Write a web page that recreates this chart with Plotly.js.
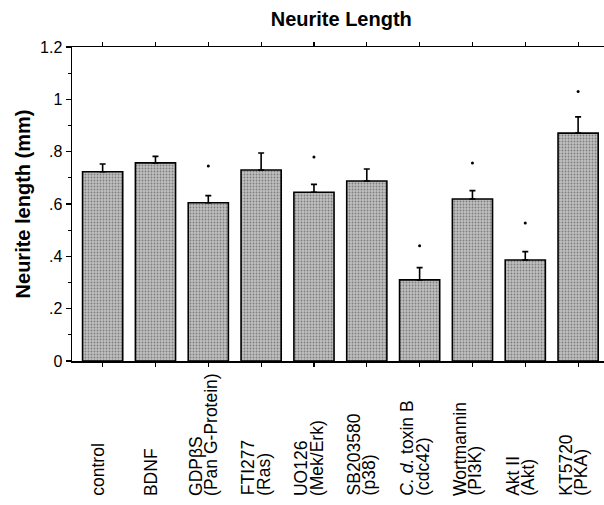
<!DOCTYPE html>
<html>
<head>
<meta charset="utf-8">
<script src="https://cdn.plot.ly/plotly-3.0.1.min.js"></script>
<style>html,body{margin:0;padding:0;background:#fff;}#chart{width:604px;height:505px;}</style>
</head>
<body>
<div id="chart"></div>
<script>
const categories = ["control","BDNF","GDPβS","FTI277","UO126","SB203580","C. d. toxin B","Wortmannin","Akt II","KT5720"];
const labelLine1 = ["control","BDNF","GDPβS","FTI277","UO126","SB203580","<i>C. d.</i> toxin B","Wortmannin","Akt II","KT5720"];
const labelLine2 = ["","","(Pan G-Protein)","(Ras)","(Mek/Erk)","(p38)","(cdc42)","(PI3K)","(Akt)","(PKA)"];
const meanLength = [0.723, 0.757, 0.605, 0.730, 0.645, 0.688, 0.310, 0.619, 0.386, 0.871];
const errUpper  = [0.030, 0.025, 0.027, 0.065, 0.030, 0.046, 0.047, 0.032, 0.032, 0.062];
const errLower  = [0, 0, 0, 0, 0, 0, 0, 0, 0, 0];
const sigCategories = ["GDPβS","UO126","C. d. toxin B","Wortmannin","Akt II","KT5720"];
const sigMarkY = [0.745, 0.780, 0.440, 0.757, 0.527, 1.030];
const yTickVals = [0, 0.2, 0.4, 0.6, 0.8, 1.0, 1.2];
const yTickText = ["0", ".2", ".4", ".6", ".8", "1", "1.2"];

const font = "Liberation Sans, Arial, Helvetica, sans-serif";

const traces = [
  {
    type: "bar",
    x: categories,
    y: meanLength,
    width: 0.76,
    marker: {
      color: "#b8b8b8",
      line: {color: "#000", width: 1.6},
      pattern: {shape: ".", bgcolor: "#c0c0c0", fgcolor: "#7e7e7e", size: 3, solidity: 0.3}
    },
    error_y: {type: "data", symmetric: false, array: errUpper, arrayminus: errLower,
              color: "#000", thickness: 1.6, width: 3},
    hoverinfo: "none"
  },
  {
    type: "scatter",
    mode: "markers",
    x: sigCategories,
    y: sigMarkY,
    marker: {color: "#000", size: 3},
    hoverinfo: "none"
  }
];

const annotations = [];
categories.forEach((c, i) => {
  const base = {
    x: c, xref: "x", y: -0.435, yref: "paper",
    textangle: -90, showarrow: false,
    xanchor: "center", yanchor: "bottom", align: "left",
    font: {family: font, size: 17.5, color: "#000"}
  };
  if (labelLine2[i]) {
    annotations.push(Object.assign({}, base, {text: labelLine1[i], xshift: -13}));
    annotations.push(Object.assign({}, base, {text: labelLine2[i], xshift: 2.5}));
  } else {
    annotations.push(Object.assign({}, base, {text: labelLine1[i], xshift: -5}));
  }
});

const layout = {
  width: 604, height: 505,
  margin: {l: 72, r: 0, t: 47, b: 144},
  paper_bgcolor: "#fff", plot_bgcolor: "#fff",
  showlegend: false,
  title: {text: "<b>Neurite Length</b>", x: 0.565, xanchor: "center", y: 0.962, yanchor: "middle",
          font: {family: font, size: 20, color: "#000"}},
  xaxis: {
    type: "category",
    range: [-0.58, 9.49],
    showline: true, linecolor: "#000", linewidth: 1.5,
    mirror: "ticks",
    ticks: "outside", ticklen: 4, tickcolor: "#000", tickwidth: 1.2,
    showticklabels: false,
    showgrid: false, zeroline: false
  },
  yaxis: {
    range: [0, 1.2],
    showline: true, linecolor: "#000", linewidth: 1.5,
    ticks: "outside", ticklen: 5, tickcolor: "#000", tickwidth: 1.2,
    tickvals: yTickVals, ticktext: yTickText,
    minor: {dtick: 0.1, ticks: "outside", ticklen: 3, tickcolor: "#000", tickwidth: 1, showgrid: false},
    tickfont: {family: font, size: 16, color: "#000"},
    showgrid: false, zeroline: false,
    title: {text: "<b>Neurite length (mm)</b>", standoff: 4, font: {family: font, size: 20, color: "#000"}}
  },
  annotations: annotations
};

Plotly.newPlot("chart", traces, layout, {displayModeBar: false, staticPlot: true});
</script>
</body>
</html>
